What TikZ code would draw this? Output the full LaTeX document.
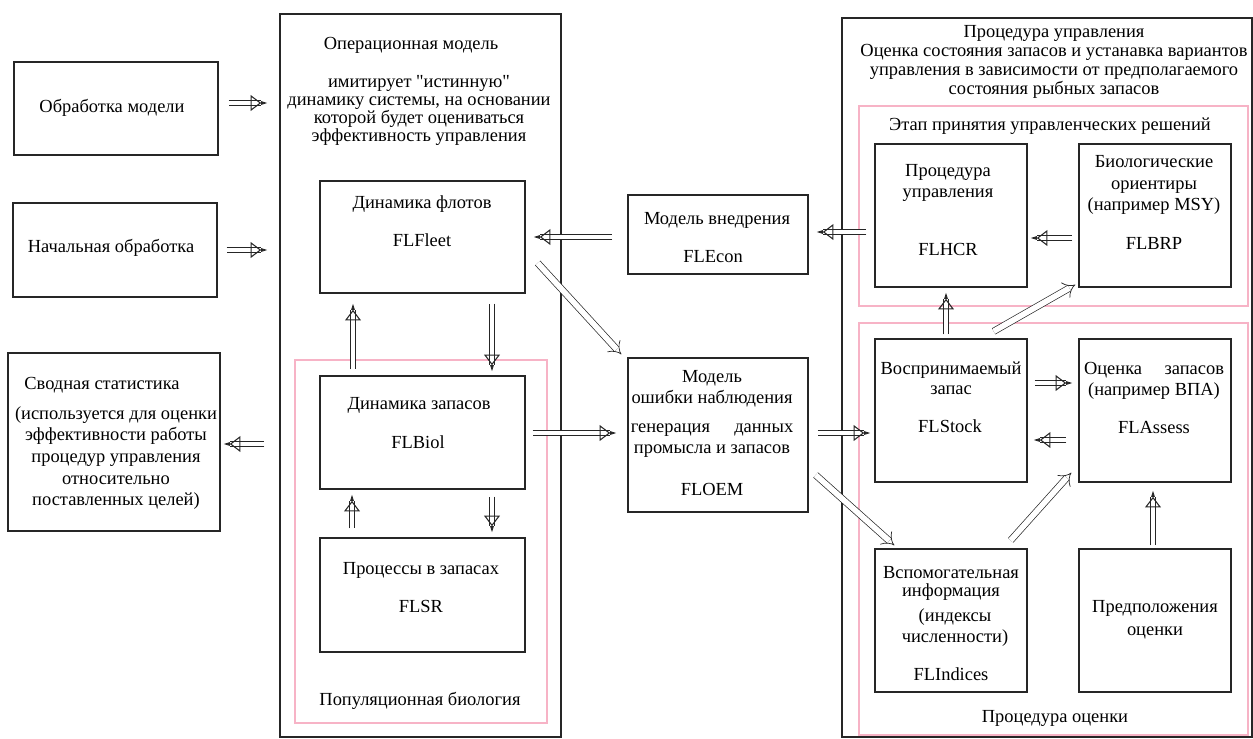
\documentclass[tikz,border=0pt]{standalone}
\usepackage{fontspec}
\setmainfont{Liberation Serif}
\usepackage{tikz}
\usetikzlibrary{arrows.meta, positioning, fit}
\definecolor{framepink}{HTML}{F7B3C6}
\definecolor{linegray}{HTML}{262626}

\begin{document}
\begin{tikzpicture}[x=0.02cm, y=-0.02cm, font=\fontsize{10.5}{12}\selectfont,
    box/.style={draw=linegray, line width=0.75pt, inner sep=0pt, fit={#1}},
    pinkbox/.style={draw=framepink, line width=0.6pt, inner sep=0pt, fit={#1}},
    txt/.style={inner sep=0pt, align=center},
    blockarrow/.style={draw=linegray, double=white, double distance=2.6pt, line width=0.5pt,
        -{Triangle[open, length=6pt, width=9pt, line width=0.6pt] Triangle[length=3.5pt, width=2pt]}},
    dblarrow/.style={draw=linegray, double=white, double distance=3.2pt, line width=0.4pt, -{Implies[scale=1.5]}}]
    \useasboundingbox (0,0) rectangle (1253,738);

    % ── LEFT: inputs and outputs ──────────────────────────────────────
    \node[box={(14,62) (218,155)}] (proc) {};
    \node[txt] (procText) at (112,108) {Обработка модели};
    \node[box={(13,203) (217,297)}] (init) {};
    \node[txt] (initText) at (111,248) {Начальная обработка};
    \node[box={(8,353) (220,531)}] (summ) {};
    \node[txt] (summHead) at (102,385) {Сводная статистика};
    \node[txt, font=\fontsize{10.5}{12.3}\selectfont] (summText) at (116,458)
        {(используется для оценки\\эффективности работы\\процедур управления\\относительно\\поставленных целей)};

    % ── OPERATIONAL MODEL ─────────────────────────────────────────────
    \node[box={(280,14) (561,737)}] (opm) {};
    \node[txt] (opmHead) at (411,45) {Операционная модель};
    \node[txt, font=\fontsize{10.5}{10.4}\selectfont] (opmText) at (419,110.5)
        {имитирует \textquotedbl истинную\textquotedbl\\динамику системы, на основании\\которой будет оцениваться\\эффективность управления};
    \node[box={(320,181) (525,293)}] (fleet) {};
    \node[txt] (fleetName) at (422,204) {Динамика флотов};
    \node[txt] (fleetCode) at (422,240) {FLFleet};
    \node[pinkbox={(295,360) (547,723)}] (popbio) {};
    \node[txt] (popLabel) at (420,701) {Популяционная биология};
    \node[box={(320,376) (525,489)}] (biol) {};
    \node[txt] (biolName) at (419,405) {Динамика запасов};
    \node[txt] (biolCode) at (418,442) {FLBiol};
    \node[box={(320,538) (525,652)}] (sr) {};
    \node[txt] (srName) at (421,570) {Процессы в запасах};
    \node[txt] (srCode) at (421,606) {FLSR};

    % ── MIDDLE ────────────────────────────────────────────────────────
    \node[box={(628,195) (808,274)}] (econ) {};
    \node[txt] (econName) at (717,220) {Модель внедрения};
    \node[txt] (econCode) at (713,257) {FLEcon};
    \node[box={(628,358) (808,512)}] (oem) {};
    \node[txt] (oemName) at (712,388.5) {Модель\\ошибки наблюдения};
    \node[txt] (oemGen) at (712,441) {\makebox[3.25cm][s]{генерация данных}\\промысла и запасов};
    \node[txt] (oemCode) at (712,489) {FLOEM};

    % ── RIGHT: MANAGEMENT PROCEDURE ───────────────────────────────────
    \node[box={(842,18) (1252,737)}] (mp) {};
    \node[txt, font=\fontsize{10.5}{10.9}\selectfont] (mpHead) at (1054,62)
        {Процедура управления\\Оценка состояния запасов и устанавка вариантов\\управления в зависимости от предполагаемого\\состояния рыбных запасов};
    \node[pinkbox={(859,106) (1248,306)}] (decide) {};
    \node[txt] (decideLabel) at (1050,126) {Этап принятия управленческих решений};
    \node[box={(875,144) (1027,287)}] (hcr) {};
    \node[txt] (hcrName) at (948,182.5) {Процедура\\управления};
    \node[txt] (hcrCode) at (948,249) {FLHCR};
    \node[box={(1079,144) (1231,287)}] (brp) {};
    \node[txt, font=\fontsize{10.5}{12.4}\selectfont] (brpName) at (1154,185) {Биологические\\ориентиры\\(например MSY)};
    \node[txt] (brpCode) at (1154,243) {FLBRP};

    \node[pinkbox={(859,323) (1248,735)}] (estim) {};
    \node[txt] (estimLabel) at (1055,718) {Процедура оценки};
    \node[box={(875,339) (1027,482)}] (stock) {};
    \node[txt, font=\fontsize{10.5}{11.3}\selectfont] (stockName) at (951,378) {Воспринимаемый\\запас};
    \node[txt] (stockCode) at (950,426) {FLStock};
    \node[box={(1079,339) (1231,482)}] (assess) {};
    \node[txt] (assessName) at (1154,380.5) {\makebox[2.8cm][s]{Оценка запасов}\\(например ВПА)};
    \node[txt] (assessCode) at (1154,427) {FLAssess};
    \node[box={(875,549) (1027,692)}] (ind) {};
    \node[txt, font=\fontsize{10.5}{10.2}\selectfont] (indName) at (951,583) {Вспомогательная\\информация};
    \node[txt] (indNote) at (955,627.5) {(индексы\\численности)};
    \node[txt] (indCode) at (951,674) {FLIndices};
    \node[box={(1079,549) (1231,692)}] (assum) {};
    \node[txt, font=\fontsize{10.5}{13}\selectfont] (assumText) at (1155,619.5) {Предположения\\оценки};

    % ── ARROWS ────────────────────────────────────────────────────────
    \draw[blockarrow, shorten <=0.2cm, shorten >=0.24cm] (proc.east |- 0,103) -- (opm.west |- 0,103);
    \draw[blockarrow, shorten <=0.18cm, shorten >=0.24cm] (init.east |- 0,250) -- (opm.west |- 0,250);
    \draw[blockarrow, shorten <=0.3cm, shorten >=0.06cm] (opm.west |- 0,444) -- (summ.east |- 0,444);
    \draw[blockarrow, shorten <=0.12cm, shorten >=0.2cm] (biol.north -| 353,0) -- (fleet.south -| 353,0);
    \draw[blockarrow, shorten <=0.2cm, shorten >=0.08cm] (fleet.south -| 492,0) -- (biol.north -| 492,0);
    \draw[blockarrow, shorten <=0.18cm, shorten >=0.1cm] (sr.north -| 352,0) -- (biol.south -| 352,0);
    \draw[blockarrow, shorten <=0.14cm, shorten >=0.1cm] (biol.south -| 492,0) -- (sr.north -| 492,0);
    \draw[blockarrow, shorten <=0.3cm, shorten >=0.16cm] (econ.west |- 0,237) -- (fleet.east |- 0,237);
    \draw[blockarrow, shorten <=0.16cm, shorten >=0.16cm] (hcr.west |- 0,232) -- (econ.east |- 0,232);
    \draw[blockarrow, shorten <=0.12cm, shorten >=0.06cm] (brp.west |- 0,238) -- (hcr.east |- 0,238);
    \draw[dblarrow] ([shift={(12,26)}]fleet.east) -- ([shift={(-6,-3)}]oem.north west);
    \draw[blockarrow, shorten <=0.14cm, shorten >=0.22cm] (biol.east |- 0,433) -- (oem.west |- 0,433);
    \draw[blockarrow, shorten <=0.18cm, shorten >=0.08cm] (oem.east |- 0,433) -- (stock.west |- 0,433);
    \draw[dblarrow] ([shift={(7,40)}]oem.east) -- ([shift={(20,-3)}]ind.north west);
    \draw[blockarrow, shorten <=0.08cm, shorten >=0.1cm] (stock.north -| 946,0) -- (hcr.south -| 946,0);
    \draw[dblarrow] ([shift={(-34,-7)}]stock.north east) -- ([shift={(-3,-3)}]brp.south west);
    \draw[blockarrow, shorten <=0.14cm, shorten >=0.12cm] (stock.east |- 0,383) -- (assess.west |- 0,383);
    \draw[blockarrow, shorten <=0.24cm, shorten >=0.12cm] (assess.west |- 0,440) -- (stock.east |- 0,440);
    \draw[dblarrow] ([shift={(-17,-8)}]ind.north east) -- ([shift={(-7,-10)}]assess.south west);
    \draw[blockarrow, shorten <=0.06cm, shorten >=0.16cm] (assum.north -| 1153,0) -- (assess.south -| 1153,0);
\end{tikzpicture}
\end{document}
